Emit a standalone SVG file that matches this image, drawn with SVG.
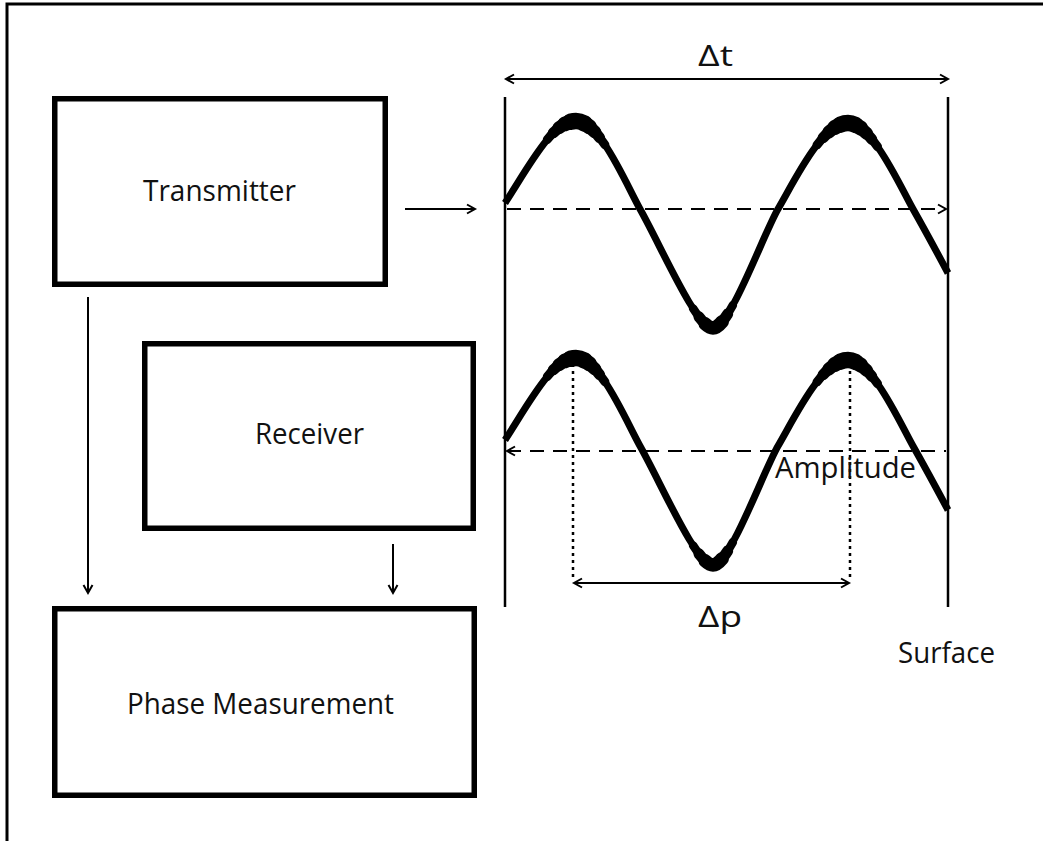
<svg xmlns="http://www.w3.org/2000/svg" xmlns:xlink="http://www.w3.org/1999/xlink" width="1043" height="841" viewBox="0 0 1043 841">
<defs>
<style>
.box{fill:#fff;stroke:#000;stroke-width:5.5}
.lbl{font-family:"Open Sans","Noto Sans",sans-serif;font-size:30px;fill:#111;text-anchor:middle}
.conn{fill:none;stroke:#000;stroke-width:2}
.dash{fill:none;stroke:#000;stroke-width:2.2;stroke-dasharray:14 9}
.dot{fill:none;stroke:#000;stroke-width:2.5;stroke-dasharray:3 4}
.wave{fill:none;stroke:#000;stroke-width:7;stroke-linejoin:round}
.cr{fill:none;stroke:#000;stroke-linecap:round}
.c1{stroke-width:9}
.c2{stroke-width:11;stroke-dasharray:76 1000;stroke-dashoffset:-12}
.c3{stroke-width:13;stroke-dasharray:56 1000;stroke-dashoffset:-22}
.c4{stroke-width:15;stroke-dasharray:36 1000;stroke-dashoffset:-32}
.c5{stroke-width:16.5;stroke-dasharray:20 1000;stroke-dashoffset:-40}
.t1{stroke-width:8.5;stroke-dasharray:70 1000;stroke-dashoffset:-15}
.t2{stroke-width:11;stroke-dasharray:46 1000;stroke-dashoffset:-27}
.t3{stroke-width:13.5;stroke-dasharray:24 1000;stroke-dashoffset:-38}
</style>
<marker id="ah" markerUnits="userSpaceOnUse" markerWidth="14" markerHeight="14" refX="9" refY="5" orient="auto-start-reverse" viewBox="0 0 14 10">
<path d="M1,0.5 L9,5 L1,9.5" fill="none" stroke="#000" stroke-width="2"/>
</marker>
<path id="pk1" pathLength="100" d="M547.3,139.5 C556.8,127.7 566.4,121 576,121 C585.6,121 595.5,131.1 604.9,144.8"/>
<path id="pk2" pathLength="100" d="M817,144.9 C827,132.1 837.6,123 848,123 C857.6,123 867.8,133.1 877.5,146.7"/>
<path id="tr1" pathLength="100" d="M686.3,297.3 C696.7,315.2 706.2,328 713,328 C719.8,328 729.2,313.1 738.9,293.6"/>
<g id="wave">
<path class="wave" d="M505,203 C528,168 552,121 576,121 C600,121 626,184 640,209 C662,248 696,328 713,328 C730,328 763,235 778,209 C795,180 822,123 848,123 C872,123 900,186 913,209 C926,232 940,258 948,273"/>
<g class="cr">
<use xlink:href="#pk1" class="c1"/><use xlink:href="#pk1" class="c2"/><use xlink:href="#pk1" class="c3"/><use xlink:href="#pk1" class="c4"/><use xlink:href="#pk1" class="c5"/>
<use xlink:href="#pk2" class="c1"/><use xlink:href="#pk2" class="c2"/><use xlink:href="#pk2" class="c3"/><use xlink:href="#pk2" class="c4"/><use xlink:href="#pk2" class="c5"/>
<use xlink:href="#tr1" class="t1"/><use xlink:href="#tr1" class="t2"/><use xlink:href="#tr1" class="t3"/>
</g>
</g>
</defs>
<rect x="7" y="4" width="1100" height="900" fill="#fff" stroke="#000" stroke-width="3"/>
<g id="node-transmitter">
<rect class="box" x="54.75" y="98.75" width="330.5" height="185.5"/>
<text class="lbl" x="219.5" y="201" textLength="153" lengthAdjust="spacingAndGlyphs">Transmitter</text>
</g>
<g id="node-receiver">
<rect class="box" x="144.75" y="343.75" width="328.5" height="184.5"/>
<text class="lbl" x="309.5" y="444" textLength="109" lengthAdjust="spacingAndGlyphs">Receiver</text>
</g>
<g id="node-phase">
<rect class="box" x="54.75" y="608.75" width="419.5" height="186.5"/>
<text class="lbl" x="260.5" y="714" textLength="267" lengthAdjust="spacingAndGlyphs">Phase Measurement</text>
</g>
<g id="signal">
<line x1="505" y1="97" x2="505" y2="607" stroke="#000" stroke-width="2.5"/>
<line x1="948" y1="97" x2="948" y2="607" stroke="#000" stroke-width="2.5"/>
<use xlink:href="#wave"/>
<use xlink:href="#wave" transform="translate(0,237)"/>
<line class="dot" x1="573" y1="357" x2="573" y2="581"/>
<line class="dot" x1="850" y1="357" x2="850" y2="581"/>
<text class="lbl" x="715.5" y="66" textLength="35" lengthAdjust="spacingAndGlyphs">Δt</text>
<text class="lbl" x="720" y="627" textLength="44" lengthAdjust="spacingAndGlyphs">Δp</text>
<text class="lbl" x="845.5" y="478" textLength="141" lengthAdjust="spacingAndGlyphs">Amplitude</text>
<text class="lbl" x="946.5" y="663" textLength="97" lengthAdjust="spacingAndGlyphs">Surface</text>
</g>
<g id="connectors">
<line class="conn" x1="405" y1="209" x2="475" y2="209" marker-end="url(#ah)"/>
<line class="conn" x1="88" y1="297" x2="88" y2="593" marker-end="url(#ah)"/>
<line class="conn" x1="393" y1="544" x2="393" y2="593" marker-end="url(#ah)"/>
<line class="conn" stroke-width="2.5" x1="506" y1="79" x2="948" y2="79" marker-start="url(#ah)" marker-end="url(#ah)"/>
<line class="dash" x1="507" y1="209" x2="946" y2="209" marker-end="url(#ah)"/>
<line class="dash" x1="507" y1="451" x2="946" y2="451" marker-start="url(#ah)"/>
<line class="conn" stroke-width="2.5" x1="574" y1="583" x2="849" y2="583" marker-start="url(#ah)" marker-end="url(#ah)"/>
</g>
</svg>
